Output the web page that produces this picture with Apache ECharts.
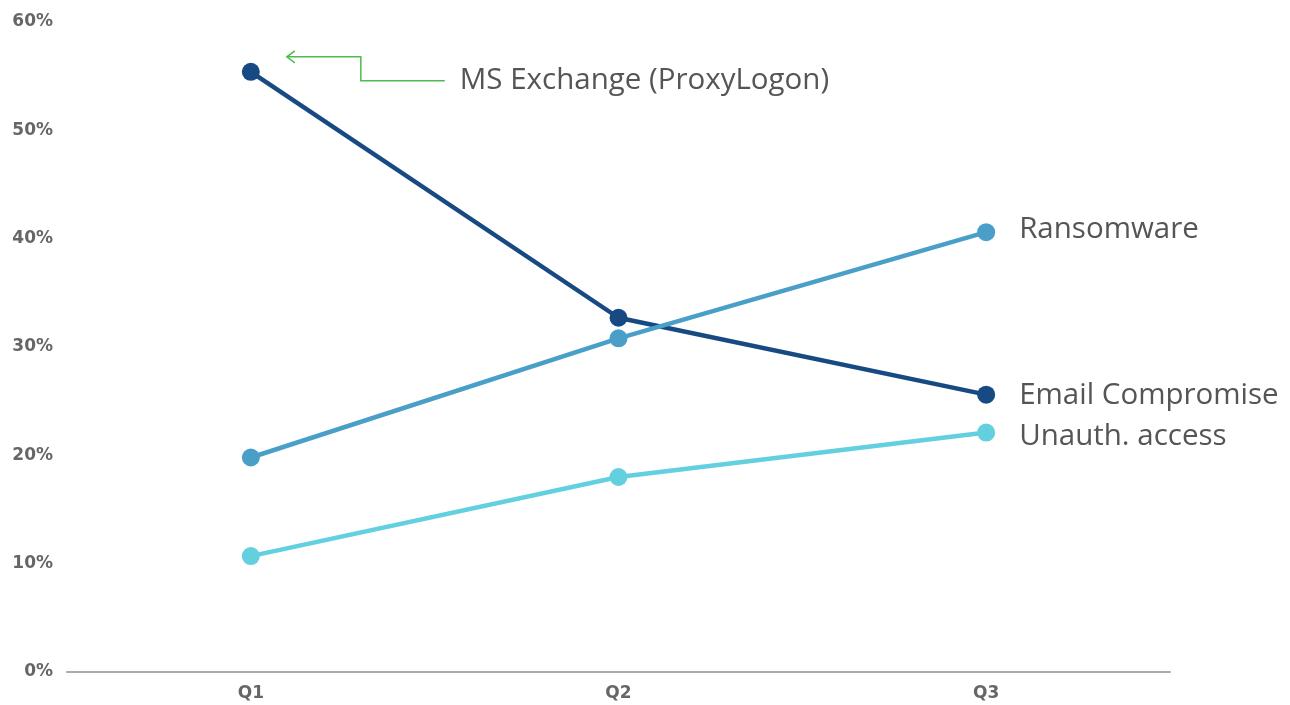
<!DOCTYPE html>
<html>
<head>
<meta charset="utf-8">
<script src="https://cdn.jsdelivr.net/npm/echarts@6/dist/echarts.min.js"></script>
<style>
  html, body { margin: 0; padding: 0; background: #fff; }
  #chart { width: 1290px; height: 705px; }
</style>
</head>
<body>
<div id="chart"></div>
<script>
const quarters = ['Q1', 'Q2', 'Q3'];
const emailCompromise = [55.4, 32.7, 25.6];
const ransomware = [19.8, 30.8, 40.6];
const unauthAccess = [10.7, 18.0, 22.1];
const seriesNames = ['Email Compromise', 'Ransomware', 'Unauth. access'];
const annotationText = 'MS Exchange (ProxyLogon)';

const colors = ['#174a82', '#4a9fc8', '#62d0de'];
const fontName = '"Open Sans", sans-serif';
const tickFont = '"DejaVu Sans", sans-serif';

const chart = echarts.init(document.getElementById('chart'));

function line(name, data, color, labelOffsetY) {
  return {
    name: name,
    type: 'line',
    data: data,
    color: color,
    symbol: 'circle',
    symbolSize: 18,
    lineStyle: { width: 4.5, color: color },
    itemStyle: { color: color },
    label: {
      show: true,
      position: 'right',
      distance: 24,
      offset: [0, labelOffsetY],
      fontFamily: fontName,
      fontSize: 29.5,
      color: '#555',
      formatter: (p) => p.dataIndex === data.length - 1 ? name : ''
    },
    emphasis: { disabled: true },
    z: 3
  };
}

chart.setOption({
  animation: false,
  grid: { left: 67, right: 120, top: 22, bottom: 33 },
  xAxis: {
    type: 'category',
    data: quarters,
    axisLine: { lineStyle: { color: '#aaa', width: 2 } },
    axisTick: { show: false },
    axisLabel: { fontFamily: tickFont, fontWeight: 'bold', fontSize: 17, color: '#666', margin: 13 }
  },
  yAxis: {
    type: 'value',
    min: 0,
    max: 60,
    interval: 10,
    splitLine: { show: false },
    axisLine: { show: false },
    axisTick: { show: false },
    axisLabel: {
      fontFamily: tickFont, fontWeight: 'bold', fontSize: 17, color: '#666', margin: 14,
      formatter: '{value}%'
    }
  },
  series: [
    line(seriesNames[0], emailCompromise, colors[0], 1),
    line(seriesNames[1], ransomware, colors[1], -3),
    line(seriesNames[2], unauthAccess, colors[2], 4)
  ]
});

// annotation pointing at the Q1 peak
const p = chart.convertToPixel({ seriesIndex: 0 }, [0, emailCompromise[0]]);
const tip = [p[0] + 36, p[1] - 15];
const elbow = p[0] + 110;
const tail = p[0] + 194;
chart.setOption({
  graphic: [
    {
      type: 'polyline',
      shape: { points: [[tail, p[1] + 9], [elbow, p[1] + 9], [elbow, tip[1]], [tip[0], tip[1]]] },
      style: { stroke: '#4dbb4d', lineWidth: 1.5, fill: null }
    },
    {
      type: 'polyline',
      shape: { points: [[tip[0] + 8, tip[1] - 6], [tip[0], tip[1]], [tip[0] + 8, tip[1] + 6]] },
      style: { stroke: '#4dbb4d', lineWidth: 1.5, fill: null }
    },
    {
      type: 'text',
      x: tail + 15,
      y: p[1] + 9,
      style: {
        text: annotationText,
        font: '29.5px ' + fontName,
        fill: '#555',
        textVerticalAlign: 'middle'
      }
    }
  ]
});
</script>
</body>
</html>
